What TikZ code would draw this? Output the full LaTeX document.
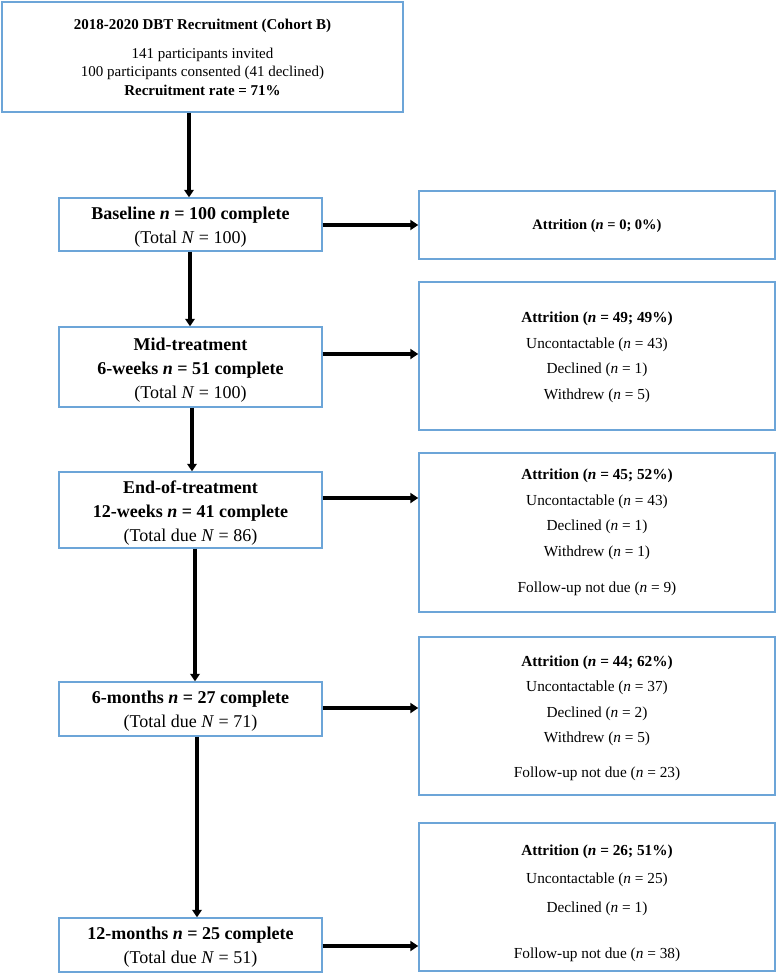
\documentclass[tikz,border=0pt]{standalone}
\usepackage{fontspec}
\setmainfont{Liberation Serif}
\usetikzlibrary{arrows.meta}
\definecolor{boxblue}{RGB}{108,165,216}
\begin{document}
\begin{tikzpicture}[x=1pt,y=-1pt,
  box/.style={draw=boxblue, line width=1.4pt, inner sep=0pt, fill=white},
  leftbox/.style={box, minimum width=263pt},
  rightbox/.style={box, minimum width=356pt},
  txt/.style={inner sep=0pt, align=center},
  lefttxt/.style={txt, font=\fontsize{18}{24}\selectfont},
  righttxt/.style={txt, font=\fontsize{15.3}{25.5}\selectfont},
  varr/.style={line width=3.1pt, -{Triangle[length=7.5pt,width=9.5pt]}},
  harr/.style={line width=3.2pt, -{Triangle[length=8pt,width=10pt]}}]
\useasboundingbox[fill=white] (0,0) rectangle (778,975);

% top box
\node[box, minimum width=401pt, minimum height=110pt, align=center, font=\fontsize{15}{18.5}\selectfont]
  (top) at (202.5,57)
  {\textbf{2018-2020 DBT Recruitment (Cohort B)}\\[10.5pt]
   141 participants invited\\
   100 participants consented (41 declined)\\
   \textbf{Recruitment rate = 71\%}};

% left column
\node[leftbox, minimum height=53pt] (base) at (190.5,224.5) {};
\node[lefttxt] (baset) at ([yshift=-3pt]base.center)
  {\textbf{Baseline \textit{n} = 100 complete}\\(Total \textit{N} = 100)};
\node[leftbox, minimum height=80pt] (mid) at (190.5,367) {};
\node[lefttxt] (midt) at ([yshift=-2.8pt]mid.center)
  {\textbf{Mid-treatment}\\\textbf{6-weeks \textit{n} = 51 complete}\\(Total \textit{N} = 100)};
\node[leftbox, minimum height=76pt] (eot) at (190.5,510) {};
\node[lefttxt] (eott) at ([yshift=-3pt]eot.center)
  {\textbf{End-of-treatment}\\\textbf{12-weeks \textit{n} = 41 complete}\\(Total due \textit{N} = 86)};
\node[leftbox, minimum height=54pt] (m6) at (190.5,709) {};
\node[lefttxt] (m6t) at ([yshift=-2pt]m6.center)
  {\textbf{6-months \textit{n} = 27 complete}\\(Total due \textit{N} = 71)};
\node[leftbox, minimum height=54pt] (m12) at (190.5,945) {};
\node[lefttxt] (m12t) at ([yshift=-2pt]m12.center)
  {\textbf{12-months \textit{n} = 25 complete}\\(Total due \textit{N} = 51)};

% right column
\node[rightbox, minimum height=68pt] (a0) at (597,225) {};
\node[txt, font=\fontsize{14.5}{18}\selectfont] (a0t) at ([yshift=-1.5pt]a0.center)
  {\textbf{Attrition (\textit{n} = 0; 0\%)}};
\node[rightbox, minimum height=148pt] (a49) at (597,356) {};
\node[righttxt] (a49t) at ([yshift=-1.5pt]a49.center)
  {\textbf{Attrition (\textit{n} = 49; 49\%)}\\
   Uncontactable (\textit{n} = 43)\\
   Declined (\textit{n} = 1)\\
   Withdrew (\textit{n} = 5)};
\node[rightbox, minimum height=159pt] (a45) at (597,532.5) {};
\node[righttxt] (a45t) at (a45.center)
  {\textbf{Attrition (\textit{n} = 45; 52\%)}\\
   Uncontactable (\textit{n} = 43)\\
   Declined (\textit{n} = 1)\\
   Withdrew (\textit{n} = 1)\\[10.5pt]
   Follow-up not due (\textit{n} = 9)};
\node[rightbox, minimum height=158pt] (a44) at (597,716) {};
\node[righttxt] (a44t) at ([yshift=-2pt]a44.center)
  {\textbf{Attrition (\textit{n} = 44; 62\%)}\\
   Uncontactable (\textit{n} = 37)\\
   Declined (\textit{n} = 2)\\
   Withdrew (\textit{n} = 5)\\[9pt]
   Follow-up not due (\textit{n} = 23)};
\node[rightbox, minimum height=148pt] (a26) at (597,897) {};
\node[txt, font=\fontsize{15.3}{28.5}\selectfont] (a26t) at ([yshift=-6pt]a26.center)
  {\textbf{Attrition (\textit{n} = 26; 51\%)}\\
   Uncontactable (\textit{n} = 25)\\
   Declined (\textit{n} = 1)\\[17.5pt]
   Follow-up not due (\textit{n} = 38)};

% vertical arrows
\draw[varr] ([xshift=-13.5pt]top.south) -- ([xshift=-1.5pt]base.north);
\draw[varr] ([xshift=-0.5pt]base.south) -- ([xshift=-0.5pt]mid.north);
\draw[varr] ([xshift=1.5pt]mid.south) -- ([xshift=1.5pt]eot.north);
\draw[varr] ([xshift=4.5pt]eot.south) -- ([xshift=4.5pt]m6.north);
\draw[varr] ([xshift=6.5pt]m6.south) -- ([xshift=6.5pt]m12.north);

% horizontal arrows
\draw[harr] ([yshift=-0.5pt]base.east) -- ([yshift=-0.5pt]base.east -| a0.west);
\draw[harr] ([yshift=13pt]mid.east) -- ([yshift=13pt]mid.east -| a49.west);
\draw[harr] ([yshift=12pt]eot.east) -- ([yshift=12pt]eot.east -| a45.west);
\draw[harr] ([yshift=1pt]m6.east) -- ([yshift=1pt]m6.east -| a44.west);
\draw[harr] ([yshift=-1pt]m12.east) -- ([yshift=-1pt]m12.east -| a26.west);
\end{tikzpicture}
\end{document}
